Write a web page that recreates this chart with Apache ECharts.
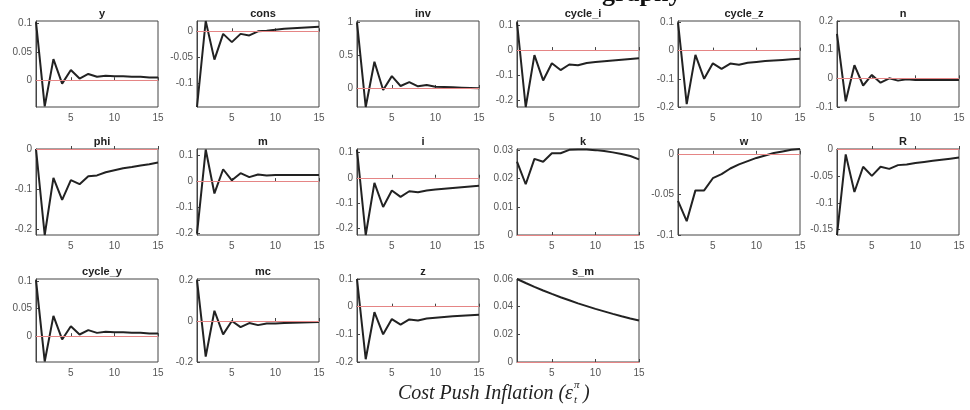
<!DOCTYPE html>
<html>
<head>
<meta charset="utf-8">
<script src="https://cdn.jsdelivr.net/npm/echarts@6.0.0/dist/echarts.min.js"></script>
<style>
  html, body { margin: 0; padding: 0; background: #fff; }
  #chart { width: 970px; height: 410px; }
</style>
</head>
<body>
<div id="chart"></div>
<script>
// impulse responses, periods 1..15
const periods = [1, 2, 3, 4, 5, 6, 7, 8, 9, 10, 11, 12, 13, 14, 15];

const yResp = [0.102, -0.046, 0.037, -0.006, 0.018, 0.003, 0.011, 0.006, 0.008, 0.007, 0.007, 0.006, 0.006, 0.005, 0.005];
const consResp = [-0.147, 0.02, -0.055, -0.005, -0.021, -0.005, -0.008, 0.0, 0.001, 0.003, 0.005, 0.006, 0.007, 0.008, 0.009];
const invResp = [1.0, -0.29, 0.4, -0.03, 0.18, 0.03, 0.09, 0.025, 0.045, 0.02, 0.015, 0.01, 0.005, 0.0, -0.005];
const cycleIResp = [0.11, -0.225, -0.02, -0.12, -0.052, -0.079, -0.057, -0.06, -0.051, -0.047, -0.044, -0.041, -0.038, -0.035, -0.032];
const cycleZResp = [0.1, -0.19, -0.015, -0.1, -0.045, -0.065, -0.046, -0.05, -0.043, -0.04, -0.037, -0.035, -0.033, -0.031, -0.029];
const nResp = [0.155, -0.08, 0.046, -0.025, 0.012, -0.015, 0.0, -0.008, -0.003, -0.006, -0.006, -0.006, -0.006, -0.006, -0.006];
const phiResp = [0, -0.215, -0.072, -0.127, -0.078, -0.088, -0.068, -0.066, -0.058, -0.053, -0.048, -0.045, -0.041, -0.038, -0.034];
const mResp = [-0.2, 0.12, -0.047, 0.045, 0.003, 0.03, 0.015, 0.025, 0.021, 0.023, 0.023, 0.023, 0.023, 0.023, 0.023];
const iResp = [0.11, -0.225, -0.02, -0.115, -0.05, -0.075, -0.053, -0.057, -0.05, -0.046, -0.043, -0.04, -0.037, -0.034, -0.031];
const kResp = [0.026, 0.018, 0.027, 0.026, 0.029, 0.029, 0.0302, 0.0303, 0.0303, 0.0301, 0.0298, 0.0293, 0.0287, 0.028, 0.0268];
const wResp = [-0.058, -0.083, -0.045, -0.045, -0.03, -0.025, -0.018, -0.013, -0.009, -0.005, -0.002, 0.001, 0.003, 0.005, 0.006];
const rResp = [-0.16, -0.01, -0.08, -0.033, -0.05, -0.033, -0.037, -0.03, -0.029, -0.026, -0.024, -0.022, -0.02, -0.018, -0.016];
const cycleYResp = [0.102, -0.046, 0.037, -0.006, 0.018, 0.003, 0.011, 0.006, 0.008, 0.007, 0.007, 0.006, 0.006, 0.005, 0.005];
const mcResp = [0.2, -0.174, 0.05, -0.065, 0.0, -0.03, -0.01, -0.02, -0.012, -0.012, -0.01, -0.008, -0.007, -0.006, -0.005];
const zResp = [0.1, -0.19, -0.02, -0.1, -0.045, -0.065, -0.046, -0.05, -0.043, -0.04, -0.037, -0.035, -0.033, -0.031, -0.029];
const smResp = [0.06, 0.0571, 0.0543, 0.0517, 0.0492, 0.0468, 0.0446, 0.0424, 0.0404, 0.0384, 0.0366, 0.0348, 0.0331, 0.0315, 0.03];

const xTicks = [5, 10, 15];

// name, data, y range, y tick values
const panels = [
  ['y', yResp, -0.047, 0.104, [0, 0.05, 0.1]],
  ['cons', consResp, -0.147, 0.02, [-0.1, -0.05, 0]],
  ['inv', invResp, -0.29, 1.02, [0, 0.5, 1]],
  ['cycle_i', cycleIResp, -0.225, 0.115, [-0.2, -0.1, 0, 0.1]],
  ['cycle_z', cycleZResp, -0.2, 0.105, [-0.2, -0.1, 0, 0.1]],
  ['n', nResp, -0.1, 0.2, [-0.1, 0, 0.1, 0.2]],
  ['phi', phiResp, -0.215, 0, [-0.2, -0.1, 0]],
  ['m', mResp, -0.205, 0.122, [-0.2, -0.1, 0, 0.1]],
  ['i', iResp, -0.225, 0.113, [-0.2, -0.1, 0, 0.1]],
  ['k', kResp, 0, 0.0305, [0, 0.01, 0.02, 0.03]],
  ['w', wResp, -0.1, 0.006, [-0.1, -0.05, 0]],
  ['R', rResp, -0.16, 0, [-0.15, -0.1, -0.05, 0]],
  ['cycle_y', cycleYResp, -0.047, 0.104, [0, 0.05, 0.1]],
  ['mc', mcResp, -0.2, 0.205, [-0.2, 0, 0.2]],
  ['z', zResp, -0.2, 0.1, [-0.2, -0.1, 0, 0.1]],
  ['s_m', smResp, 0, 0.06, [0, 0.02, 0.04, 0.06]],
];

const colLeft = [36, 197, 357, 517, 678, 837];
const rowTop = [21, 149, 279];
const rowHeight = [86, 86, 83];
const plotWidth = 122;

const fontSans = '"Liberation Sans", Arial, sans-serif';
const tickLabel = { fontSize: 10, color: '#555', fontFamily: fontSans };

const fmt = (v) => String(+(+v).toFixed(4));

const grids = [], xAxes = [], yAxes = [], series = [], titles = [];

panels.forEach(([name, data, ymin, ymax, yTicks], idx) => {
  const row = Math.floor(idx / 6);
  const col = idx % 6;
  const left = colLeft[col];
  const top = rowTop[row];

  grids.push({
    left, top, width: plotWidth, height: rowHeight[row],
    show: true, borderColor: '#444', borderWidth: 1, backgroundColor: '#fff',
  });

  xAxes.push({
    gridIndex: idx, type: 'value', min: 1, max: 15,
    axisLine: { show: true, lineStyle: { color: '#444' } },
    axisTick: { show: true, inside: true, length: 3, customValues: xTicks, lineStyle: { color: '#444' } },
    axisLabel: { ...tickLabel, margin: 6, customValues: xTicks, formatter: fmt },
    splitLine: { show: false },
  });

  yAxes.push({
    gridIndex: idx, type: 'value', min: ymin, max: ymax,
    axisLine: { show: true, lineStyle: { color: '#444' } },
    axisTick: { show: true, inside: true, length: 3, customValues: yTicks, lineStyle: { color: '#444' } },
    axisLabel: { ...tickLabel, margin: 4, customValues: yTicks, formatter: fmt },
    splitLine: { show: false },
  });

  series.push({
    name, type: 'line', xAxisIndex: idx, yAxisIndex: idx,
    data: periods.map((p, j) => [p, data[j]]),
    showSymbol: false, symbol: 'none',
    lineStyle: { color: '#222', width: 2 },
    z: 3,
    markLine: {
      silent: true, symbol: 'none', animation: false,
      label: { show: false },
      lineStyle: { color: '#e58585', width: 1, type: 'solid' },
      data: [{ yAxis: 0 }],
    },
  });

  titles.push({
    text: name,
    left: left + plotWidth / 2,
    top: top - 18,
    textAlign: 'center',
    textStyle: { fontSize: 11, fontWeight: 'bold', color: '#222', fontFamily: fontSans },
  });
});

const chart = echarts.init(document.getElementById('chart'), null, { renderer: 'canvas' });
chart.setOption({
  animation: false,
  backgroundColor: '#fff',
  title: titles,
  grid: grids,
  xAxis: xAxes,
  yAxis: yAxes,
  series,
  graphic: [
    {
      type: 'text', left: 602, top: -19,
      style: { text: 'graphy', font: 'bold 26px "Liberation Serif", serif', fill: '#111' },
    },
    {
      type: 'text', x: 573, y: 394,
      style: { text: 'Cost Push Inflation (ε', font: 'italic 20px "Liberation Serif", serif', fill: '#222', align: 'right', verticalAlign: 'middle' },
    },
    {
      type: 'text', x: 574, y: 385,
      style: { text: 'π', font: 'italic 11px "Liberation Serif", serif', fill: '#222', align: 'left', verticalAlign: 'middle' },
    },
    {
      type: 'text', x: 574, y: 400,
      style: { text: 't', font: 'italic 11px "Liberation Serif", serif', fill: '#222', align: 'left', verticalAlign: 'middle' },
    },
    {
      type: 'text', x: 583, y: 394,
      style: { text: ')', font: 'italic 20px "Liberation Serif", serif', fill: '#222', align: 'left', verticalAlign: 'middle' },
    },
  ],
});
</script>
</body>
</html>
